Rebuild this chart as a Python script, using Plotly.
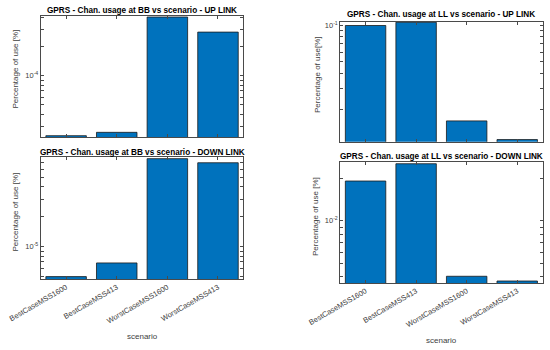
import numpy as np
import plotly.graph_objects as go

scenarios = ["BestCaseMSS1600", "BestCaseMSS413", "WorstCaseMSS1600", "WorstCaseMSS413"]
bb_up = [2.40e-5, 2.60e-5, 4.07e-4, 2.84e-4]
bb_down = [4.98e-6, 6.84e-6, 7.7e-5, 7.0e-5]
ll_up = [0.0996, 0.106, 0.0161, 0.01127]
ll_down = [1.92e-2, 2.55e-2, 4.03e-3, 3.73e-3]

titles = [
    "GPRS - Chan. usage at BB vs scenario - UP LINK",
    "GPRS - Chan. usage at BB vs scenario - DOWN LINK",
    "GPRS - Chan. usage at LL vs scenario - UP LINK",
    "GPRS - Chan. usage at LL vs scenario - DOWN LINK",
]
ylabels = ["Percentage of use [%]", "Percentage of use [%]",
           "Percentage of use[%]", "Percentage of use [%]"]
xlabel = "scenario"

W, H = 550, 350
FONT = "Liberation Sans, Arial, sans-serif"
AX = "#4a4a4a"
TXT = "#404040"

panels = [
    dict(vals=bb_up, x=(40.8, 243.3), y=(16, 137.3), yr=(2.31e-5, 4.17e-4), showx=False,
         ty=10, lx=15, ly=69.5),
    dict(vals=bb_down, x=(40.8, 243.3), y=(157, 279.2), yr=(4.69e-6, 8.0e-5), showx=True,
         ty=152.7, lx=15, ly=212.5),
    dict(vals=ll_up, x=(340.3, 542.5), y=(22, 141.8), yr=(1.08e-2, 0.1065), showx=False,
         ty=14, lx=317, ly=75),
    dict(vals=ll_down, x=(340.3, 542.5), y=(162.3, 283), yr=(3.61e-3, 2.61e-2), showx=True,
         ty=156, lx=315, ly=217),
]


def log_ticks(lo, hi):
    vals, texts = [], []
    for n in range(int(np.floor(np.log10(lo))) - 1, int(np.ceil(np.log10(hi))) + 1):
        for k in range(1, 10):
            v = k * 10.0 ** n
            if lo <= v <= hi:
                vals.append(v)
                texts.append(f"10<sup>{n}</sup>" if k == 1 else " ")
    return vals, texts


fig = go.Figure()
layout = dict(width=W, height=H, autosize=False, margin=dict(l=0, r=0, t=0, b=0, pad=0),
              paper_bgcolor="white", plot_bgcolor="white", showlegend=False,
              font=dict(family=FONT, color=TXT), annotations=[])

for i, (p, t, yl) in enumerate(zip(panels, titles, ylabels), start=1):
    sx = "" if i == 1 else str(i)
    fig.add_trace(go.Bar(
        x=scenarios, y=p["vals"], xaxis="x" + sx, yaxis="y" + sx, width=0.8,
        marker=dict(color="#0072BD", line=dict(color="#1a1a1a", width=0.8)),
    ))
    tv, tt = log_ticks(*p["yr"])
    layout["xaxis" + sx] = dict(
        domain=[p["x"][0] / W, p["x"][1] / W], anchor="y" + sx, type="category",
        range=[-0.5, 3.5], showline=True, linecolor=AX, linewidth=1, mirror="ticks",
        ticks="inside", ticklen=3, tickcolor=AX, showgrid=False, zeroline=False,
        showticklabels=p["showx"], tickangle=-30, automargin=False,
        tickfont=dict(size=7.5, color=TXT, family=FONT),
    )
    layout["yaxis" + sx] = dict(
        domain=[1 - p["y"][1] / H, 1 - p["y"][0] / H], anchor="x" + sx, type="log",
        range=[np.log10(p["yr"][0]), np.log10(p["yr"][1])], showline=True, linecolor=AX,
        linewidth=1, mirror="ticks", ticks="inside", ticklen=3, tickcolor=AX,
        tickmode="array", tickvals=tv, ticktext=tt, showgrid=False, zeroline=False,
        automargin=False, tickfont=dict(size=7.5, color=TXT, family=FONT),
    )
    layout["annotations"].append(dict(
        text=t, xref="paper", yref="paper", x=(p["x"][0] + p["x"][1]) / 2 / W,
        y=1 - p["ty"] / H, xanchor="center", yanchor="middle", showarrow=False,
        font=dict(size=8.2, color="#000000", family=FONT, weight="bold"),
    ))
    layout["annotations"].append(dict(
        text=yl, xref="paper", yref="paper", x=p["lx"] / W, y=1 - p["ly"] / H,
        xanchor="center", yanchor="middle", showarrow=False, textangle=-90,
        font=dict(size=8, color=TXT, family=FONT),
    ))
    if p["showx"]:
        layout["annotations"].append(dict(
            text=xlabel, xref="paper", yref="paper", x=(p["x"][0] + p["x"][1]) / 2 / W,
            y=1 - (336 if i == 2 else 340) / H, xanchor="center", yanchor="middle",
            showarrow=False, font=dict(size=8, color=TXT, family=FONT),
        ))

fig.update_layout(**layout)
fig.write_html(
    "out.html",
    config={"displayModeBar": False, "staticPlot": True},
    post_script="document.body.style.margin='0';document.body.style.overflow='hidden';",
)
